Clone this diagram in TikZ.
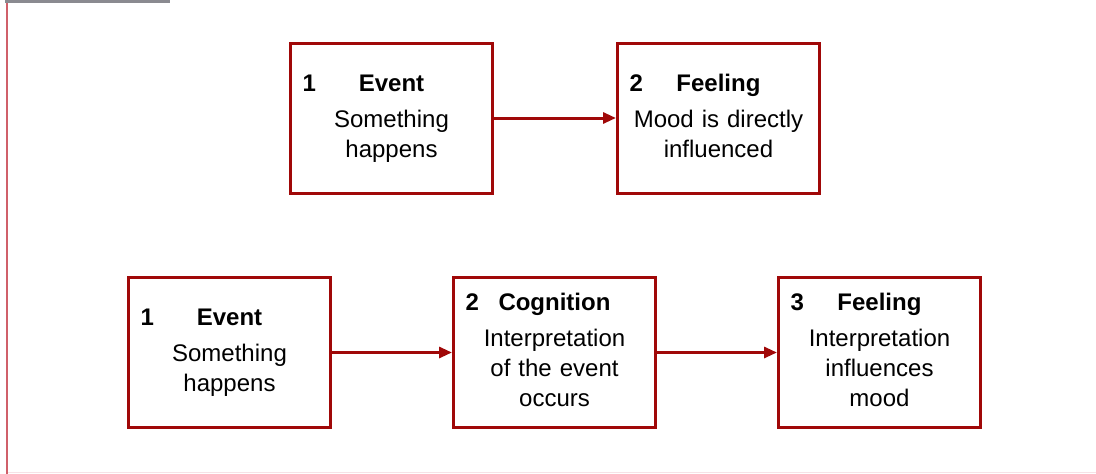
\documentclass[tikz,border=0pt]{standalone}
\usepackage{fontspec}
\setmainfont{Liberation Sans}
\usepackage{tikz}
\usetikzlibrary{positioning, arrows.meta}

\definecolor{boxred}{RGB}{160,8,8}
\definecolor{marginred}{RGB}{208,96,106}
\definecolor{bargray}{RGB}{138,138,144}
\definecolor{lowpink}{RGB}{246,226,230}

\tikzset{
  stepbox/.style={draw=boxred, line width=3pt, minimum width=202pt, minimum height=150pt,
    text width=178pt, inner xsep=12pt, align=center, font=\fontsize{24}{30}\selectfont,
    execute at end node=\strut},
  flow/.style={draw=boxred, line width=3pt, -{Triangle[length=13pt,width=11pt]}}
}
\newcommand{\boxhead}[2]{\textbf{\rlap{#1}\hfill #2\strut\hfill\null}\\[6pt]}

\begin{document}
\begin{tikzpicture}[x=1pt, y=-1pt]
                \useasboundingbox (0,0) rectangle (1096,474);
                \fill[bargray] (5,0) rectangle (170,3);
                \draw[marginred, line width=2pt] (7,3) -- (7,474);
                \draw[lowpink, line width=1.5pt] (8,472.5) -- (1096,472.5);
                % direct route
                \node [stepbox] (e1) at (391.5,118) {\boxhead{1}{Event}Something\\happens};
                \node [stepbox, right = 122pt of e1] (f1) {\boxhead{2}{Feeling}Mood is directly\\influenced};
                % route through cognition
                \node [stepbox] (e2) at (229.5,352.5) {\boxhead{1}{Event}Something\\happens};
                \node [stepbox, right = 120pt of e2] (c2) {\boxhead{2}{Cognition}Interpretation\\of the event\\occurs};
                \node [stepbox, right = 120pt of c2] (f2) {\boxhead{3}{Feeling}Interpretation\\influences\\mood};
                \draw [flow] (e1) -- (f1);
                \draw [flow] (e2) -- (c2);
                \draw [flow] (c2) -- (f2);
            \end{tikzpicture}
\end{document}
